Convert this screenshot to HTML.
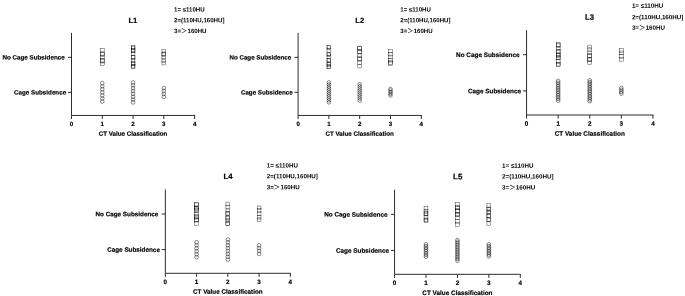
<!DOCTYPE html>
<html><head><meta charset="utf-8"><title>CT Value Classification</title>
<style>
html,body{margin:0;padding:0;background:#fff;}
svg{display:block;}
text{font-family:"Liberation Sans","Noto Sans CJK SC",sans-serif;font-weight:bold;fill:#000;stroke:#000;stroke-width:0.18px;}
.ax{stroke:#222;stroke-width:0.95;fill:none;}
.m{stroke:#000;stroke-width:0.36;fill:none;}
circle.m{stroke-width:0.45;}
.gt{font-family:"Noto Sans CJK SC","Liberation Sans",sans-serif;font-weight:normal;stroke:#000;stroke-width:0.1px;}
.lg{stroke:none;}
</style></head><body>
<svg width="685" height="296" viewBox="0 0 685 296">
<rect width="685" height="296" fill="#fff"/>

<g id="L1">
<path class="ax" d="M71.5 32.9V115.45H195.09"/>
<path class="ax" d="M71.5 115.45v3.55M102.28 115.45v3.55M133.06 115.45v3.55M163.84 115.45v3.55M194.62 115.45v3.55M71.5 57.35h-3.55M71.5 92.35h-3.55"/>
<text transform="translate(71.5 125.9) scale(1 1.0) rotate(0.03)" font-size="6.2" text-anchor="middle">0</text>
<text transform="translate(102.28 125.9) scale(1 1.0) rotate(0.03)" font-size="6.2" text-anchor="middle">1</text>
<text transform="translate(133.06 125.9) scale(1 1.0) rotate(0.03)" font-size="6.2" text-anchor="middle">2</text>
<text transform="translate(163.84 125.9) scale(1 1.0) rotate(0.03)" font-size="6.2" text-anchor="middle">3</text>
<text transform="translate(194.62 125.9) scale(1 1.0) rotate(0.03)" font-size="6.2" text-anchor="middle">4</text>
<text transform="translate(133.06 135.65) scale(1 1.0) rotate(0.03)" font-size="6.25" text-anchor="middle">CT Value Classification</text>
<text transform="translate(64.65 59.6) scale(1 1.0) rotate(0.03)" font-size="6.25" text-anchor="end">No Cage Subsidence</text>
<text transform="translate(66.15 94.6) scale(1 1.0) rotate(0.03)" font-size="6.25" text-anchor="end">Cage Subsidence</text>
<text transform="translate(132.9 23) scale(1 1.0) rotate(0.03)" font-size="7.7" text-anchor="middle">L1</text>
<text transform="translate(174 11.4) scale(1 1.0) rotate(0.03)" font-size="6.12" class="lg">1= ≤110HU</text>
<text transform="translate(174 22.3) scale(1 1.0) rotate(0.03)" font-size="6.12" class="lg">2=(110HU,160HU]</text>
<text transform="translate(174 33.05) scale(1 1.0) rotate(0.03)" font-size="6.12" class="lg">3=<tspan class="gt">＞</tspan><tspan dx="0.4">160HU</tspan></text>
<rect class="m" x="100.41" y="48.28" width="3.74" height="3.74"/>
<rect class="m" x="100.41" y="51.99" width="3.74" height="3.74"/>
<rect class="m" x="100.41" y="52.6" width="3.74" height="3.74"/>
<rect class="m" x="100.41" y="55.11" width="3.74" height="3.74"/>
<rect class="m" x="100.41" y="58.54" width="3.74" height="3.74"/>
<rect class="m" x="100.41" y="59.23" width="3.74" height="3.74"/>
<rect class="m" x="100.41" y="61.98" width="3.74" height="3.74"/>
<rect class="m" x="131.19" y="45.18" width="3.74" height="3.74"/>
<rect class="m" x="131.19" y="46.12" width="3.74" height="3.74"/>
<rect class="m" x="131.19" y="48.44" width="3.74" height="3.74"/>
<rect class="m" x="131.19" y="49.08" width="3.74" height="3.74"/>
<rect class="m" x="131.19" y="51.64" width="3.74" height="3.74"/>
<rect class="m" x="131.19" y="55.21" width="3.74" height="3.74"/>
<rect class="m" x="131.19" y="55.83" width="3.74" height="3.74"/>
<rect class="m" x="131.19" y="58.33" width="3.74" height="3.74"/>
<rect class="m" x="131.19" y="61.57" width="3.74" height="3.74"/>
<rect class="m" x="131.19" y="62.13" width="3.74" height="3.74"/>
<rect class="m" x="131.19" y="64.3" width="3.74" height="3.74"/>
<rect class="m" x="131.19" y="64.78" width="3.74" height="3.74"/>
<rect class="m" x="161.97" y="49.28" width="3.74" height="3.74"/>
<rect class="m" x="161.97" y="51.94" width="3.74" height="3.74"/>
<rect class="m" x="161.97" y="52.47" width="3.74" height="3.74"/>
<rect class="m" x="161.97" y="55.43" width="3.74" height="3.74"/>
<rect class="m" x="161.97" y="58.46" width="3.74" height="3.74"/>
<rect class="m" x="161.97" y="61.18" width="3.74" height="3.74"/>
<circle class="m" cx="102.28" cy="83.15" r="1.82"/>
<circle class="m" cx="102.28" cy="86.22" r="1.82"/>
<circle class="m" cx="102.28" cy="89.28" r="1.82"/>
<circle class="m" cx="102.28" cy="92.35" r="1.82"/>
<circle class="m" cx="102.28" cy="95.42" r="1.82"/>
<circle class="m" cx="102.28" cy="98.48" r="1.82"/>
<circle class="m" cx="102.28" cy="101.55" r="1.82"/>
<circle class="m" cx="133.06" cy="82.45" r="1.82"/>
<circle class="m" cx="133.06" cy="85.31" r="1.82"/>
<circle class="m" cx="133.06" cy="88.16" r="1.82"/>
<circle class="m" cx="133.06" cy="91.02" r="1.82"/>
<circle class="m" cx="133.06" cy="93.88" r="1.82"/>
<circle class="m" cx="133.06" cy="96.74" r="1.82"/>
<circle class="m" cx="133.06" cy="99.59" r="1.82"/>
<circle class="m" cx="133.06" cy="102.45" r="1.82"/>
<circle class="m" cx="163.84" cy="88.05" r="1.82"/>
<circle class="m" cx="163.84" cy="90.98" r="1.82"/>
<circle class="m" cx="163.84" cy="93.92" r="1.82"/>
<circle class="m" cx="163.84" cy="96.85" r="1.82"/>
</g>
<g id="L2">
<path class="ax" d="M298.1 32.9V115.45H421.77"/>
<path class="ax" d="M298.1 115.45v3.55M328.9 115.45v3.55M359.7 115.45v3.55M390.5 115.45v3.55M421.3 115.45v3.55M298.1 57.35h-3.55M298.1 92.35h-3.55"/>
<text transform="translate(298.1 125.9) scale(1 1.0) rotate(0.03)" font-size="6.17" text-anchor="middle">0</text>
<text transform="translate(328.9 125.9) scale(1 1.0) rotate(0.03)" font-size="6.17" text-anchor="middle">1</text>
<text transform="translate(359.7 125.9) scale(1 1.0) rotate(0.03)" font-size="6.17" text-anchor="middle">2</text>
<text transform="translate(390.5 125.9) scale(1 1.0) rotate(0.03)" font-size="6.17" text-anchor="middle">3</text>
<text transform="translate(421.3 125.9) scale(1 1.0) rotate(0.03)" font-size="6.17" text-anchor="middle">4</text>
<text transform="translate(359.7 135.65) scale(1 1.0) rotate(0.03)" font-size="6.22" text-anchor="middle">CT Value Classification</text>
<text transform="translate(291.25 59.6) scale(1 1.0) rotate(0.03)" font-size="6.22" text-anchor="end">No Cage Subsidence</text>
<text transform="translate(292.75 94.6) scale(1 1.0) rotate(0.03)" font-size="6.22" text-anchor="end">Cage Subsidence</text>
<text transform="translate(359.8 23) scale(1 1.0) rotate(0.03)" font-size="7.66" text-anchor="middle">L2</text>
<text transform="translate(400.3 11.4) scale(1 1.0) rotate(0.03)" font-size="6.09" class="lg">1= ≤110HU</text>
<text transform="translate(400.3 22.25) scale(1 1.0) rotate(0.03)" font-size="6.09" class="lg">2=(110HU,160HU]</text>
<text transform="translate(400.3 32.95) scale(1 1.0) rotate(0.03)" font-size="6.09" class="lg">3=<tspan class="gt">＞</tspan><tspan dx="0.4">160HU</tspan></text>
<rect class="m" x="327.03" y="45.18" width="3.74" height="3.74"/>
<rect class="m" x="327.03" y="45.85" width="3.74" height="3.74"/>
<rect class="m" x="327.03" y="48.7" width="3.74" height="3.74"/>
<rect class="m" x="327.03" y="52.13" width="3.74" height="3.74"/>
<rect class="m" x="327.03" y="52.96" width="3.74" height="3.74"/>
<rect class="m" x="327.03" y="55.18" width="3.74" height="3.74"/>
<rect class="m" x="327.03" y="58.28" width="3.74" height="3.74"/>
<rect class="m" x="327.03" y="58.84" width="3.74" height="3.74"/>
<rect class="m" x="327.03" y="61.94" width="3.74" height="3.74"/>
<rect class="m" x="327.03" y="62.4" width="3.74" height="3.74"/>
<rect class="m" x="327.03" y="64.61" width="3.74" height="3.74"/>
<rect class="m" x="327.03" y="65.08" width="3.74" height="3.74"/>
<rect class="m" x="357.83" y="46.08" width="3.74" height="3.74"/>
<rect class="m" x="357.83" y="46.54" width="3.74" height="3.74"/>
<rect class="m" x="357.83" y="49.8" width="3.74" height="3.74"/>
<rect class="m" x="357.83" y="50.25" width="3.74" height="3.74"/>
<rect class="m" x="357.83" y="53.41" width="3.74" height="3.74"/>
<rect class="m" x="357.83" y="56.76" width="3.74" height="3.74"/>
<rect class="m" x="357.83" y="57.38" width="3.74" height="3.74"/>
<rect class="m" x="357.83" y="60.77" width="3.74" height="3.74"/>
<rect class="m" x="357.83" y="64.18" width="3.74" height="3.74"/>
<rect class="m" x="388.63" y="49.18" width="3.74" height="3.74"/>
<rect class="m" x="388.63" y="52.26" width="3.74" height="3.74"/>
<rect class="m" x="388.63" y="55.1" width="3.74" height="3.74"/>
<rect class="m" x="388.63" y="58.3" width="3.74" height="3.74"/>
<rect class="m" x="388.63" y="60.6" width="3.74" height="3.74"/>
<rect class="m" x="388.63" y="61.48" width="3.74" height="3.74"/>
<circle class="m" cx="328.9" cy="82.45" r="1.82"/>
<circle class="m" cx="328.9" cy="84.44" r="1.82"/>
<circle class="m" cx="328.9" cy="86.43" r="1.82"/>
<circle class="m" cx="328.9" cy="88.42" r="1.82"/>
<circle class="m" cx="328.9" cy="90.41" r="1.82"/>
<circle class="m" cx="328.9" cy="92.4" r="1.82"/>
<circle class="m" cx="328.9" cy="94.39" r="1.82"/>
<circle class="m" cx="328.9" cy="96.38" r="1.82"/>
<circle class="m" cx="328.9" cy="98.37" r="1.82"/>
<circle class="m" cx="328.9" cy="100.36" r="1.82"/>
<circle class="m" cx="328.9" cy="102.35" r="1.82"/>
<circle class="m" cx="359.7" cy="84.25" r="1.82"/>
<circle class="m" cx="359.7" cy="86.3" r="1.82"/>
<circle class="m" cx="359.7" cy="88.35" r="1.82"/>
<circle class="m" cx="359.7" cy="90.4" r="1.82"/>
<circle class="m" cx="359.7" cy="92.45" r="1.82"/>
<circle class="m" cx="359.7" cy="94.5" r="1.82"/>
<circle class="m" cx="359.7" cy="96.55" r="1.82"/>
<circle class="m" cx="359.7" cy="98.6" r="1.82"/>
<circle class="m" cx="359.7" cy="100.65" r="1.82"/>
<circle class="m" cx="390.5" cy="88.95" r="1.82"/>
<circle class="m" cx="390.5" cy="90.58" r="1.82"/>
<circle class="m" cx="390.5" cy="92.2" r="1.82"/>
<circle class="m" cx="390.5" cy="93.83" r="1.82"/>
<circle class="m" cx="390.5" cy="95.45" r="1.82"/>
</g>
<g id="L3">
<path class="ax" d="M526.55 30.2V115H653.42"/>
<path class="ax" d="M526.55 115v3.65M558.15 115v3.65M589.75 115v3.65M621.35 115v3.65M652.95 115v3.65M526.55 54.65h-3.65M526.55 90.95h-3.65"/>
<text transform="translate(526.55 125.73) scale(1 1.0) rotate(0.03)" font-size="6.32" text-anchor="middle">0</text>
<text transform="translate(558.15 125.73) scale(1 1.0) rotate(0.03)" font-size="6.32" text-anchor="middle">1</text>
<text transform="translate(589.75 125.73) scale(1 1.0) rotate(0.03)" font-size="6.32" text-anchor="middle">2</text>
<text transform="translate(621.35 125.73) scale(1 1.0) rotate(0.03)" font-size="6.32" text-anchor="middle">3</text>
<text transform="translate(652.95 125.73) scale(1 1.0) rotate(0.03)" font-size="6.32" text-anchor="middle">4</text>
<text transform="translate(589.75 135.75) scale(1 1.0) rotate(0.03)" font-size="6.38" text-anchor="middle">CT Value Classification</text>
<text transform="translate(519.52 56.96) scale(1 1.0) rotate(0.03)" font-size="6.38" text-anchor="end">No Cage Subsidence</text>
<text transform="translate(521.06 93.26) scale(1 1.0) rotate(0.03)" font-size="6.38" text-anchor="end">Cage Subsidence</text>
<text transform="translate(589.5 19.87) scale(1 1.0) rotate(0.03)" font-size="7.85" text-anchor="middle">L3</text>
<text transform="translate(631.9 7.85) scale(1 1.0) rotate(0.03)" font-size="6.24" class="lg">1= ≤110HU</text>
<text transform="translate(631.9 19.15) scale(1 1.0) rotate(0.03)" font-size="6.24" class="lg">2=(110HU,160HU]</text>
<text transform="translate(631.9 29.8) scale(1 1.0) rotate(0.03)" font-size="6.24" class="lg">3=<tspan class="gt">＞</tspan><tspan dx="0.4">160HU</tspan></text>
<rect class="m" x="556.22" y="42.68" width="3.85" height="3.85"/>
<rect class="m" x="556.22" y="43.62" width="3.85" height="3.85"/>
<rect class="m" x="556.22" y="46.16" width="3.85" height="3.85"/>
<rect class="m" x="556.22" y="49.41" width="3.85" height="3.85"/>
<rect class="m" x="556.22" y="50.03" width="3.85" height="3.85"/>
<rect class="m" x="556.22" y="52.91" width="3.85" height="3.85"/>
<rect class="m" x="556.22" y="53.55" width="3.85" height="3.85"/>
<rect class="m" x="556.22" y="55.35" width="3.85" height="3.85"/>
<rect class="m" x="556.22" y="56.01" width="3.85" height="3.85"/>
<rect class="m" x="556.22" y="59.62" width="3.85" height="3.85"/>
<rect class="m" x="556.22" y="62.18" width="3.85" height="3.85"/>
<rect class="m" x="556.22" y="62.77" width="3.85" height="3.85"/>
<rect class="m" x="587.82" y="45.08" width="3.85" height="3.85"/>
<rect class="m" x="587.82" y="47.86" width="3.85" height="3.85"/>
<rect class="m" x="587.82" y="50.93" width="3.85" height="3.85"/>
<rect class="m" x="587.82" y="53.47" width="3.85" height="3.85"/>
<rect class="m" x="587.82" y="54.07" width="3.85" height="3.85"/>
<rect class="m" x="587.82" y="57.48" width="3.85" height="3.85"/>
<rect class="m" x="587.82" y="57.99" width="3.85" height="3.85"/>
<rect class="m" x="587.82" y="60.37" width="3.85" height="3.85"/>
<rect class="m" x="619.42" y="48.38" width="3.85" height="3.85"/>
<rect class="m" x="619.42" y="51.01" width="3.85" height="3.85"/>
<rect class="m" x="619.42" y="54.26" width="3.85" height="3.85"/>
<rect class="m" x="619.42" y="57.27" width="3.85" height="3.85"/>
<circle class="m" cx="558.15" cy="81.01" r="1.88"/>
<circle class="m" cx="558.15" cy="82.79" r="1.88"/>
<circle class="m" cx="558.15" cy="84.57" r="1.88"/>
<circle class="m" cx="558.15" cy="86.35" r="1.88"/>
<circle class="m" cx="558.15" cy="88.13" r="1.88"/>
<circle class="m" cx="558.15" cy="89.91" r="1.88"/>
<circle class="m" cx="558.15" cy="91.69" r="1.88"/>
<circle class="m" cx="558.15" cy="93.47" r="1.88"/>
<circle class="m" cx="558.15" cy="95.25" r="1.88"/>
<circle class="m" cx="558.15" cy="97.03" r="1.88"/>
<circle class="m" cx="558.15" cy="98.81" r="1.88"/>
<circle class="m" cx="558.15" cy="100.59" r="1.88"/>
<circle class="m" cx="589.75" cy="80.41" r="1.88"/>
<circle class="m" cx="589.75" cy="82.14" r="1.88"/>
<circle class="m" cx="589.75" cy="83.87" r="1.88"/>
<circle class="m" cx="589.75" cy="85.6" r="1.88"/>
<circle class="m" cx="589.75" cy="87.34" r="1.88"/>
<circle class="m" cx="589.75" cy="89.07" r="1.88"/>
<circle class="m" cx="589.75" cy="90.8" r="1.88"/>
<circle class="m" cx="589.75" cy="92.53" r="1.88"/>
<circle class="m" cx="589.75" cy="94.26" r="1.88"/>
<circle class="m" cx="589.75" cy="96" r="1.88"/>
<circle class="m" cx="589.75" cy="97.73" r="1.88"/>
<circle class="m" cx="589.75" cy="99.46" r="1.88"/>
<circle class="m" cx="589.75" cy="101.19" r="1.88"/>
<circle class="m" cx="621.35" cy="88.01" r="1.88"/>
<circle class="m" cx="621.35" cy="89.87" r="1.88"/>
<circle class="m" cx="621.35" cy="91.73" r="1.88"/>
<circle class="m" cx="621.35" cy="93.59" r="1.88"/>
</g>
<g id="L4">
<path class="ax" d="M165.35 189.5V273.3H290.78"/>
<path class="ax" d="M165.35 273.3v3.6M196.59 273.3v3.6M227.83 273.3v3.6M259.07 273.3v3.6M290.31 273.3v3.6M165.35 214h-3.6M165.35 249.6h-3.6"/>
<text transform="translate(165.35 283.91) scale(1 1.0) rotate(0.03)" font-size="6.27" text-anchor="middle">0</text>
<text transform="translate(196.59 283.91) scale(1 1.0) rotate(0.03)" font-size="6.27" text-anchor="middle">1</text>
<text transform="translate(227.83 283.91) scale(1 1.0) rotate(0.03)" font-size="6.27" text-anchor="middle">2</text>
<text transform="translate(259.07 283.91) scale(1 1.0) rotate(0.03)" font-size="6.27" text-anchor="middle">3</text>
<text transform="translate(290.31 283.91) scale(1 1.0) rotate(0.03)" font-size="6.27" text-anchor="middle">4</text>
<text transform="translate(227.83 293.8) scale(1 1.0) rotate(0.03)" font-size="6.33" text-anchor="middle">CT Value Classification</text>
<text transform="translate(158.4 216.28) scale(1 1.0) rotate(0.03)" font-size="6.33" text-anchor="end">No Cage Subsidence</text>
<text transform="translate(159.92 251.88) scale(1 1.0) rotate(0.03)" font-size="6.33" text-anchor="end">Cage Subsidence</text>
<text transform="translate(228 179.04) scale(1 1.0) rotate(0.03)" font-size="7.79" text-anchor="middle">L4</text>
<text transform="translate(266.8 167.53) scale(1 1.0) rotate(0.03)" font-size="6.19" class="lg">1= ≤110HU</text>
<text transform="translate(266.8 178.33) scale(1 1.0) rotate(0.03)" font-size="6.19" class="lg">2=(110HU,160HU]</text>
<text transform="translate(266.8 189.28) scale(1 1.0) rotate(0.03)" font-size="6.19" class="lg">3=<tspan class="gt">＞</tspan><tspan dx="0.4">160HU</tspan></text>
<rect class="m" x="194.69" y="202.38" width="3.8" height="3.8"/>
<rect class="m" x="194.69" y="202.92" width="3.8" height="3.8"/>
<rect class="m" x="194.69" y="205.94" width="3.8" height="3.8"/>
<rect class="m" x="194.69" y="206.48" width="3.8" height="3.8"/>
<rect class="m" x="194.69" y="207.86" width="3.8" height="3.8"/>
<rect class="m" x="194.69" y="208.52" width="3.8" height="3.8"/>
<rect class="m" x="194.69" y="212.3" width="3.8" height="3.8"/>
<rect class="m" x="194.69" y="214.74" width="3.8" height="3.8"/>
<rect class="m" x="194.69" y="215.2" width="3.8" height="3.8"/>
<rect class="m" x="194.69" y="217.61" width="3.8" height="3.8"/>
<rect class="m" x="194.69" y="218.24" width="3.8" height="3.8"/>
<rect class="m" x="194.69" y="221.72" width="3.8" height="3.8"/>
<rect class="m" x="225.93" y="202.08" width="3.8" height="3.8"/>
<rect class="m" x="225.93" y="205.11" width="3.8" height="3.8"/>
<rect class="m" x="225.93" y="208.94" width="3.8" height="3.8"/>
<rect class="m" x="225.93" y="211.24" width="3.8" height="3.8"/>
<rect class="m" x="225.93" y="211.83" width="3.8" height="3.8"/>
<rect class="m" x="225.93" y="215.51" width="3.8" height="3.8"/>
<rect class="m" x="225.93" y="216.33" width="3.8" height="3.8"/>
<rect class="m" x="225.93" y="218.8" width="3.8" height="3.8"/>
<rect class="m" x="225.93" y="221.45" width="3.8" height="3.8"/>
<rect class="m" x="225.93" y="221.92" width="3.8" height="3.8"/>
<rect class="m" x="257.17" y="205.98" width="3.8" height="3.8"/>
<rect class="m" x="257.17" y="208.67" width="3.8" height="3.8"/>
<rect class="m" x="257.17" y="211.87" width="3.8" height="3.8"/>
<rect class="m" x="257.17" y="215.18" width="3.8" height="3.8"/>
<rect class="m" x="257.17" y="217.92" width="3.8" height="3.8"/>
<circle class="m" cx="196.59" cy="242.28" r="1.86"/>
<circle class="m" cx="196.59" cy="245.27" r="1.86"/>
<circle class="m" cx="196.59" cy="248.26" r="1.86"/>
<circle class="m" cx="196.59" cy="251.24" r="1.86"/>
<circle class="m" cx="196.59" cy="254.23" r="1.86"/>
<circle class="m" cx="196.59" cy="257.22" r="1.86"/>
<circle class="m" cx="227.83" cy="239.48" r="1.86"/>
<circle class="m" cx="227.83" cy="242.36" r="1.86"/>
<circle class="m" cx="227.83" cy="245.23" r="1.86"/>
<circle class="m" cx="227.83" cy="248.11" r="1.86"/>
<circle class="m" cx="227.83" cy="250.99" r="1.86"/>
<circle class="m" cx="227.83" cy="253.87" r="1.86"/>
<circle class="m" cx="227.83" cy="256.74" r="1.86"/>
<circle class="m" cx="227.83" cy="259.62" r="1.86"/>
<circle class="m" cx="259.07" cy="245.28" r="1.86"/>
<circle class="m" cx="259.07" cy="248.16" r="1.86"/>
<circle class="m" cx="259.07" cy="251.04" r="1.86"/>
<circle class="m" cx="259.07" cy="253.92" r="1.86"/>
</g>
<g id="L5">
<path class="ax" d="M394.55 189.85V274.3H520.78"/>
<path class="ax" d="M394.55 274.3v3.63M425.99 274.3v3.63M457.43 274.3v3.63M488.87 274.3v3.63M520.31 274.3v3.63M394.55 214.35h-3.63M394.55 250.45h-3.63"/>
<text transform="translate(394.55 284.98) scale(1 1.0) rotate(0.03)" font-size="6.32" text-anchor="middle">0</text>
<text transform="translate(425.99 284.98) scale(1 1.0) rotate(0.03)" font-size="6.32" text-anchor="middle">1</text>
<text transform="translate(457.43 284.98) scale(1 1.0) rotate(0.03)" font-size="6.32" text-anchor="middle">2</text>
<text transform="translate(488.87 284.98) scale(1 1.0) rotate(0.03)" font-size="6.32" text-anchor="middle">3</text>
<text transform="translate(520.31 284.98) scale(1 1.0) rotate(0.03)" font-size="6.32" text-anchor="middle">4</text>
<text transform="translate(457.43 294.94) scale(1 1.0) rotate(0.03)" font-size="6.38" text-anchor="middle">CT Value Classification</text>
<text transform="translate(387.55 216.65) scale(1 1.0) rotate(0.03)" font-size="6.38" text-anchor="end">No Cage Subsidence</text>
<text transform="translate(389.08 252.75) scale(1 1.0) rotate(0.03)" font-size="6.38" text-anchor="end">Cage Subsidence</text>
<text transform="translate(457.7 179.26) scale(1 1.0) rotate(0.03)" font-size="7.85" text-anchor="middle">L5</text>
<text transform="translate(502.1 167.74) scale(1 1.0) rotate(0.03)" font-size="6.24" class="lg">1= ≤110HU</text>
<text transform="translate(502.1 178.54) scale(1 1.0) rotate(0.03)" font-size="6.24" class="lg">2=(110HU,160HU]</text>
<text transform="translate(502.1 189.49) scale(1 1.0) rotate(0.03)" font-size="6.24" class="lg">3=<tspan class="gt">＞</tspan><tspan dx="0.4">160HU</tspan></text>
<rect class="m" x="424.07" y="206.18" width="3.83" height="3.83"/>
<rect class="m" x="424.07" y="209.52" width="3.83" height="3.83"/>
<rect class="m" x="424.07" y="211.41" width="3.83" height="3.83"/>
<rect class="m" x="424.07" y="212.06" width="3.83" height="3.83"/>
<rect class="m" x="424.07" y="215.63" width="3.83" height="3.83"/>
<rect class="m" x="424.07" y="218.01" width="3.83" height="3.83"/>
<rect class="m" x="424.07" y="218.49" width="3.83" height="3.83"/>
<rect class="m" x="455.51" y="202.38" width="3.83" height="3.83"/>
<rect class="m" x="455.51" y="205.28" width="3.83" height="3.83"/>
<rect class="m" x="455.51" y="206.06" width="3.83" height="3.83"/>
<rect class="m" x="455.51" y="208.72" width="3.83" height="3.83"/>
<rect class="m" x="455.51" y="209.31" width="3.83" height="3.83"/>
<rect class="m" x="455.51" y="212.17" width="3.83" height="3.83"/>
<rect class="m" x="455.51" y="212.93" width="3.83" height="3.83"/>
<rect class="m" x="455.51" y="215.95" width="3.83" height="3.83"/>
<rect class="m" x="455.51" y="219.28" width="3.83" height="3.83"/>
<rect class="m" x="455.51" y="222.79" width="3.83" height="3.83"/>
<rect class="m" x="486.95" y="203.58" width="3.83" height="3.83"/>
<rect class="m" x="486.95" y="206.98" width="3.83" height="3.83"/>
<rect class="m" x="486.95" y="207.56" width="3.83" height="3.83"/>
<rect class="m" x="486.95" y="209.92" width="3.83" height="3.83"/>
<rect class="m" x="486.95" y="210.87" width="3.83" height="3.83"/>
<rect class="m" x="486.95" y="213.56" width="3.83" height="3.83"/>
<rect class="m" x="486.95" y="214.1" width="3.83" height="3.83"/>
<rect class="m" x="486.95" y="217.34" width="3.83" height="3.83"/>
<rect class="m" x="486.95" y="217.98" width="3.83" height="3.83"/>
<rect class="m" x="486.95" y="221.59" width="3.83" height="3.83"/>
<circle class="m" cx="425.99" cy="244.4" r="1.87"/>
<circle class="m" cx="425.99" cy="246.14" r="1.87"/>
<circle class="m" cx="425.99" cy="247.88" r="1.87"/>
<circle class="m" cx="425.99" cy="249.63" r="1.87"/>
<circle class="m" cx="425.99" cy="251.37" r="1.87"/>
<circle class="m" cx="425.99" cy="253.12" r="1.87"/>
<circle class="m" cx="425.99" cy="254.86" r="1.87"/>
<circle class="m" cx="425.99" cy="256.6" r="1.87"/>
<circle class="m" cx="457.43" cy="240.1" r="1.87"/>
<circle class="m" cx="457.43" cy="241.8" r="1.87"/>
<circle class="m" cx="457.43" cy="243.51" r="1.87"/>
<circle class="m" cx="457.43" cy="245.22" r="1.87"/>
<circle class="m" cx="457.43" cy="246.93" r="1.87"/>
<circle class="m" cx="457.43" cy="248.64" r="1.87"/>
<circle class="m" cx="457.43" cy="250.35" r="1.87"/>
<circle class="m" cx="457.43" cy="252.06" r="1.87"/>
<circle class="m" cx="457.43" cy="253.77" r="1.87"/>
<circle class="m" cx="457.43" cy="255.48" r="1.87"/>
<circle class="m" cx="457.43" cy="257.19" r="1.87"/>
<circle class="m" cx="457.43" cy="258.9" r="1.87"/>
<circle class="m" cx="457.43" cy="260.6" r="1.87"/>
<circle class="m" cx="488.87" cy="244.4" r="1.87"/>
<circle class="m" cx="488.87" cy="246.1" r="1.87"/>
<circle class="m" cx="488.87" cy="247.8" r="1.87"/>
<circle class="m" cx="488.87" cy="249.5" r="1.87"/>
<circle class="m" cx="488.87" cy="251.2" r="1.87"/>
<circle class="m" cx="488.87" cy="252.9" r="1.87"/>
<circle class="m" cx="488.87" cy="254.6" r="1.87"/>
<circle class="m" cx="488.87" cy="256.3" r="1.87"/>
</g>
</svg></body></html>
